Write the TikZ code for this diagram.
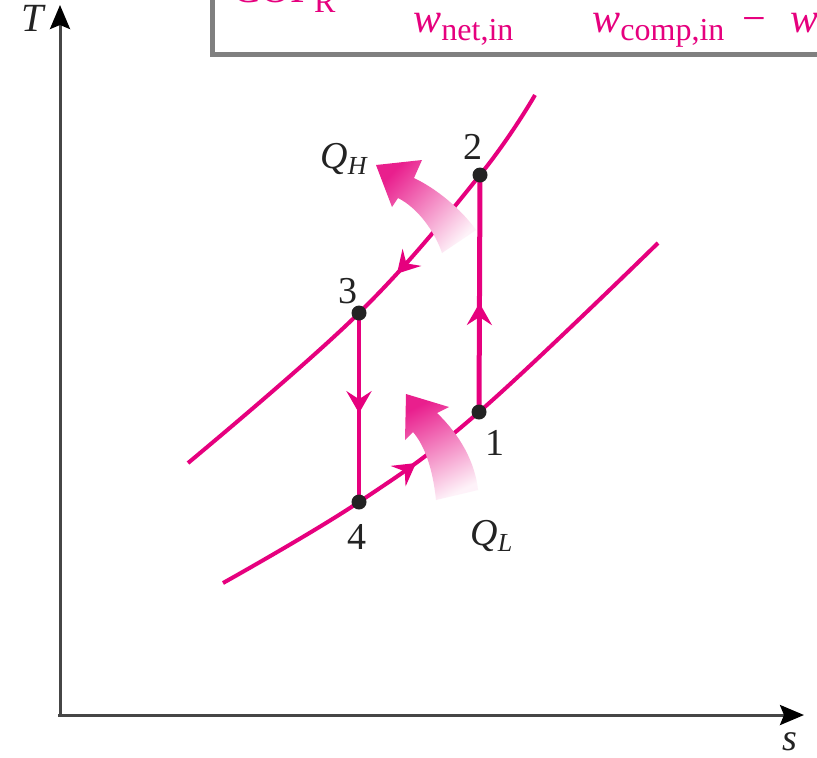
\documentclass[tikz,border=0pt]{standalone}
\usepackage{fontspec}
\setmainfont{Liberation Serif}
\usetikzlibrary{arrows.meta,decorations.markings}
\definecolor{mag}{RGB}{230,0,126}
\definecolor{ink}{RGB}{35,35,35}
\definecolor{axisgray}{RGB}{70,70,70}
\definecolor{boxgray}{RGB}{128,128,128}
\newcommand{\lblsub}[2]{{\itshape #1}\raisebox{-3pt}{\fontsize{13}{13}\selectfont\itshape #2}}
\newcommand{\boxsub}[2]{{\itshape #1}\raisebox{-4pt}{\fontsize{16}{16}\selectfont #2}}
\tikzset{pinktip/.tip={Stealth[length=11pt,width=12.5pt,inset=4pt]}}
\begin{document}
\begin{tikzpicture}[x=0.5pt,y=-0.5pt,
  cyc/.style={draw=mag,line width=2pt},
  axisline/.style={draw=axisgray,line width=1.5pt,-{Stealth[length=12pt,width=10pt,inset=2pt,color=black]}},
  midarrow/.style={postaction={decorate,decoration={markings,mark=at position #1 with {\arrow{pinktip}}}}},
  dot/.style={circle,fill=ink,inner sep=0pt,minimum size=7.5pt},
  lbl/.style={text=ink,inner sep=0pt,font=\fontsize{19}{19}\selectfont},
  boxtext/.style={text=mag,inner sep=0pt,font=\fontsize{21}{21}\selectfont},
  heatband/.style={top color=mag!88,bottom color=mag!5,shading angle=#1}
]
\clip (0,0) rectangle (817,757);
\fill[white] (0,0) rectangle (817,757);

% formula box (cropped at the top and right)
\draw[boxgray,line width=2.5pt,fill=white] (212,-30) rectangle (860,54);
\node[boxtext,anchor=base west] (cop) at (232,2) {COP\raisebox{-5pt}{\fontsize{16}{16}\selectfont R}};
\node[boxtext,anchor=base west] (wnet) at (413,32) {\boxsub{w}{net,in}};
\node[boxtext,anchor=base west] (wcomp) at (592,32) {\boxsub{w}{comp,in}\hspace{9pt}−\hspace{12pt}{\itshape w}};

% axes
\coordinate (origin) at (60,715);
\coordinate (ytip) at (60,5);
\coordinate (xtip) at (804,715);
\draw[axisline] (origin) -- (ytip);
\draw[axisline] ([xshift=-1pt]origin) -- (xtip);
\node[lbl,anchor=base west,font=\fontsize{20}{20}\selectfont\itshape] (T) at (21,31) {T};
\node[lbl,anchor=base west,font=\fontsize{19}{19}\selectfont\itshape] (s) at (782,750) {s};

% state points
\coordinate (p1) at (479,412);
\coordinate (p2) at (480,175);
\coordinate (p3) at (359,313);
\coordinate (p4) at (359,502);
\coordinate (hiA) at (535,95);
\coordinate (hiB) at (188,463);
\coordinate (loA) at (223,583);
\coordinate (loB) at (658,243);

% constant-pressure curves
\draw[cyc,midarrow=0.445] plot[smooth,tension=0.65] coordinates {(hiA) (p2) (p3) (hiB)};
\draw[cyc,midarrow=0.41] plot[smooth,tension=0.65] coordinates {(loA) (p4) (p1) (loB)};

% vertical processes
\draw[cyc,midarrow=0.53] (p3) -- (p4);
\draw[cyc,line width=2.5pt,midarrow=0.46] (p1) -- (p2);

% heat arrows
\shade[heatband=47] (376,165) -- (422,160) -- (414,178)
  .. controls (437,189) and (461,209) .. (476,230) -- (442,253)
  .. controls (435,232) and (418,208) .. (398,198) -- (392,207) -- cycle;
\shade[heatband=27] (406,394) -- (449,407) -- (437,413)
  .. controls (460,435) and (475,462) .. (478,490) -- (436,500)
  .. controls (433,470) and (425,446) .. (413,432) -- (405,440) -- cycle;

% dots
\node[dot] (d1) at (p1) {};
\node[dot] (d2) at (p2) {};
\node[dot] (d3) at (p3) {};
\node[dot] (d4) at (p4) {};

% labels
\node[lbl] (l2) at (473,147) {2};
\node[lbl] (l3) at (348,291) {3};
\node[lbl] (l1) at (495,443) {1};
\node[lbl] (l4) at (357,537) {4};
\node[lbl,anchor=base west] (qh) at (320,168) {\lblsub{Q}{H}};
\node[lbl,anchor=base west] (ql) at (470,545) {\lblsub{Q}{L}};
\end{tikzpicture}
\end{document}
